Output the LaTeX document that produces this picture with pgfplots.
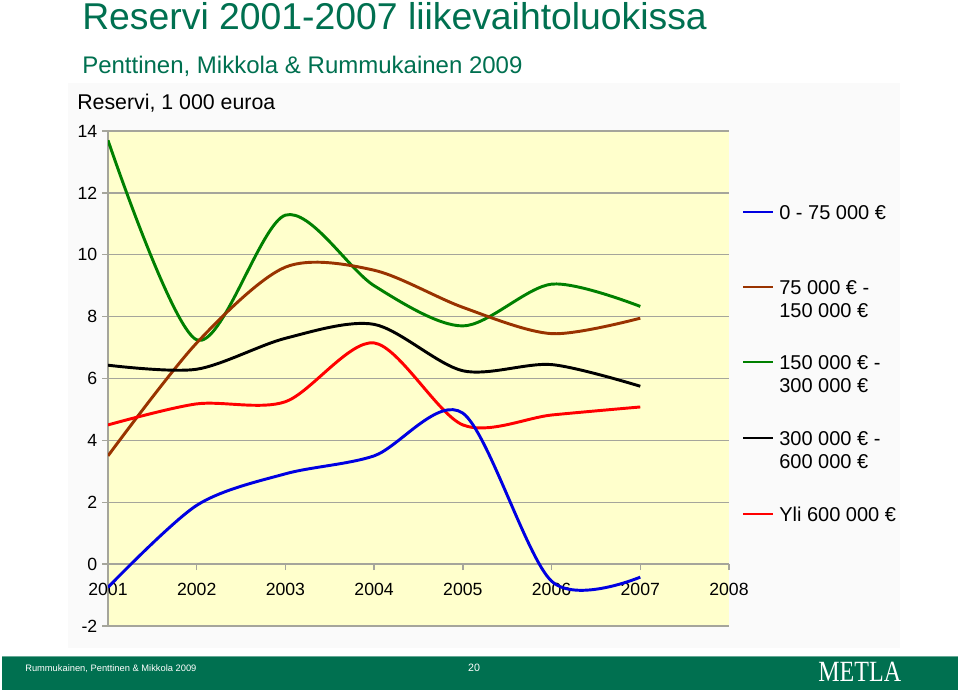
\documentclass[border=0pt]{standalone}
\usepackage{pgfplots}
\usepackage{pgfplotstable}
\pgfplotsset{compat=1.18}
\usepackage{fontspec}
\setmainfont{Liberation Sans}
\newfontfamily\seriffont{Liberation Serif}
\definecolor{metla}{RGB}{0,112,80}
\definecolor{plotbg}{RGB}{255,255,204}
\definecolor{chartbg}{RGB}{250,250,250}
\definecolor{gridc}{RGB}{165,165,155}
\definecolor{cblue}{RGB}{0,0,225}
\definecolor{cbrown}{RGB}{153,51,0}
\definecolor{cgreen}{RGB}{0,128,0}
\definecolor{cred}{RGB}{255,0,0}

\pgfplotstableread{
year  blue   brown  green  black  red
2001  -0.75  3.50   13.70  6.43   4.50
2002  1.90   7.15   7.25   6.30   5.18
2003  2.92   9.60   11.28  7.30   5.25
2004  3.50   9.50   9.00   7.75   7.15
2005  4.88   8.30   7.70   6.25   4.50
2006  -0.55  7.45   9.05   6.45   4.82
2007  -0.42  7.95   8.33   5.75   5.08
}\datatable

\begin{document}
\begin{tikzpicture}
\begin{scope}[x=0.75pt,y=-0.75pt]
\path[use as bounding box] (0,0) rectangle (960,690);
\fill[chartbg] (68,83) rectangle (900,648);
\node[anchor=base west, inner sep=0, text=metla, font=\fontsize{28}{30}\selectfont] at (82,29) {Reservi 2001-2007 liikevaihtoluokissa};
\node[anchor=base west, inner sep=0, text=metla, font=\fontsize{18}{20}\selectfont] at (82,73) {Penttinen, Mikkola \& Rummukainen 2009};
\node[anchor=base west, inner sep=0, font=\fontsize{16}{18}\selectfont] at (77,109) {Reservi, 1 000 euroa};
% footer
\fill[metla] (2,656) rectangle (958,690);
\draw[metla!60!white, line width=0.75pt] (2,656.5) -- (958,656.5);
\node[anchor=base west, inner sep=0, text=white, font=\fontsize{7}{8}\selectfont] at (25,671) {Rummukainen, Penttinen \& Mikkola 2009};
\node[anchor=base, inner sep=0, text=white, font=\fontsize{8}{9}\selectfont] at (474,671) {20};
\node[anchor=base west, inner sep=0, text=white, font=\seriffont\fontsize{22}{24}\selectfont] at (818,681) {\scalebox{0.82}[1]{METLA}};
% legend
\begin{scope}[font=\fontsize{15}{17}\selectfont]
\draw[cblue, line width=2.2pt] (743,212) -- (773,212);
\node[anchor=base west, inner sep=0] at (779,219) {0 - 75 000 €};
\draw[cbrown, line width=2.2pt] (743,287) -- (773,287);
\node[anchor=base west, inner sep=0] at (779,294) {75 000 € -};
\node[anchor=base west, inner sep=0] at (779,317) {150 000 €};
\draw[cgreen, line width=2.2pt] (743,362) -- (773,362);
\node[anchor=base west, inner sep=0] at (779,369) {150 000 € -};
\node[anchor=base west, inner sep=0] at (779,392) {300 000 €};
\draw[black, line width=2.2pt] (743,438) -- (773,438);
\node[anchor=base west, inner sep=0] at (779,445) {300 000 € -};
\node[anchor=base west, inner sep=0] at (779,468) {600 000 €};
\draw[cred, line width=2.2pt] (743,514) -- (773,514);
\node[anchor=base west, inner sep=0] at (779,521) {Yli 600 000 €};
\end{scope}
\end{scope}

\begin{axis}[
  at={(81pt,-469.5pt)}, anchor=south west,
  scale only axis, width=465.75pt, height=371.25pt,
  xmin=2001, xmax=2008, ymin=-2, ymax=14,
  axis x line=middle, axis y line=left,
  axis line style={gridc, line width=1.1pt, -},
  hide obscured x ticks=false, hide obscured y ticks=false,
  xtick={2001,2002,2003,2004,2005,2006,2007,2008},
  xticklabels={2001,2002,2003,2004,2005,2006,2007,2008},
  ytick={-2,0,2,4,6,8,10,12,14},
  yticklabels={-2,0,2,4,6,8,10,12,14},
  ymajorgrids, grid style={gridc, line width=1.1pt},
  major tick style={gridc, line width=1.1pt},
  tick align=outside, major tick length=4.5pt,
  ticklabel style={font=\fontsize{13.25}{15}\selectfont, text=black},
  xticklabel style={yshift=-6pt},
  axis background/.style={fill=plotbg},
  every axis plot/.append style={line width=2.2pt, smooth, tension=0.5},
]
\addplot[cgreen] table[x=year,y=green]{\datatable};
\addplot[cbrown] table[x=year,y=brown]{\datatable};
\addplot[black] table[x=year,y=black]{\datatable};
\addplot[cred] table[x=year,y=red]{\datatable};
\addplot[cblue] table[x=year,y=blue]{\datatable};
\end{axis}
\end{tikzpicture}
\end{document}
